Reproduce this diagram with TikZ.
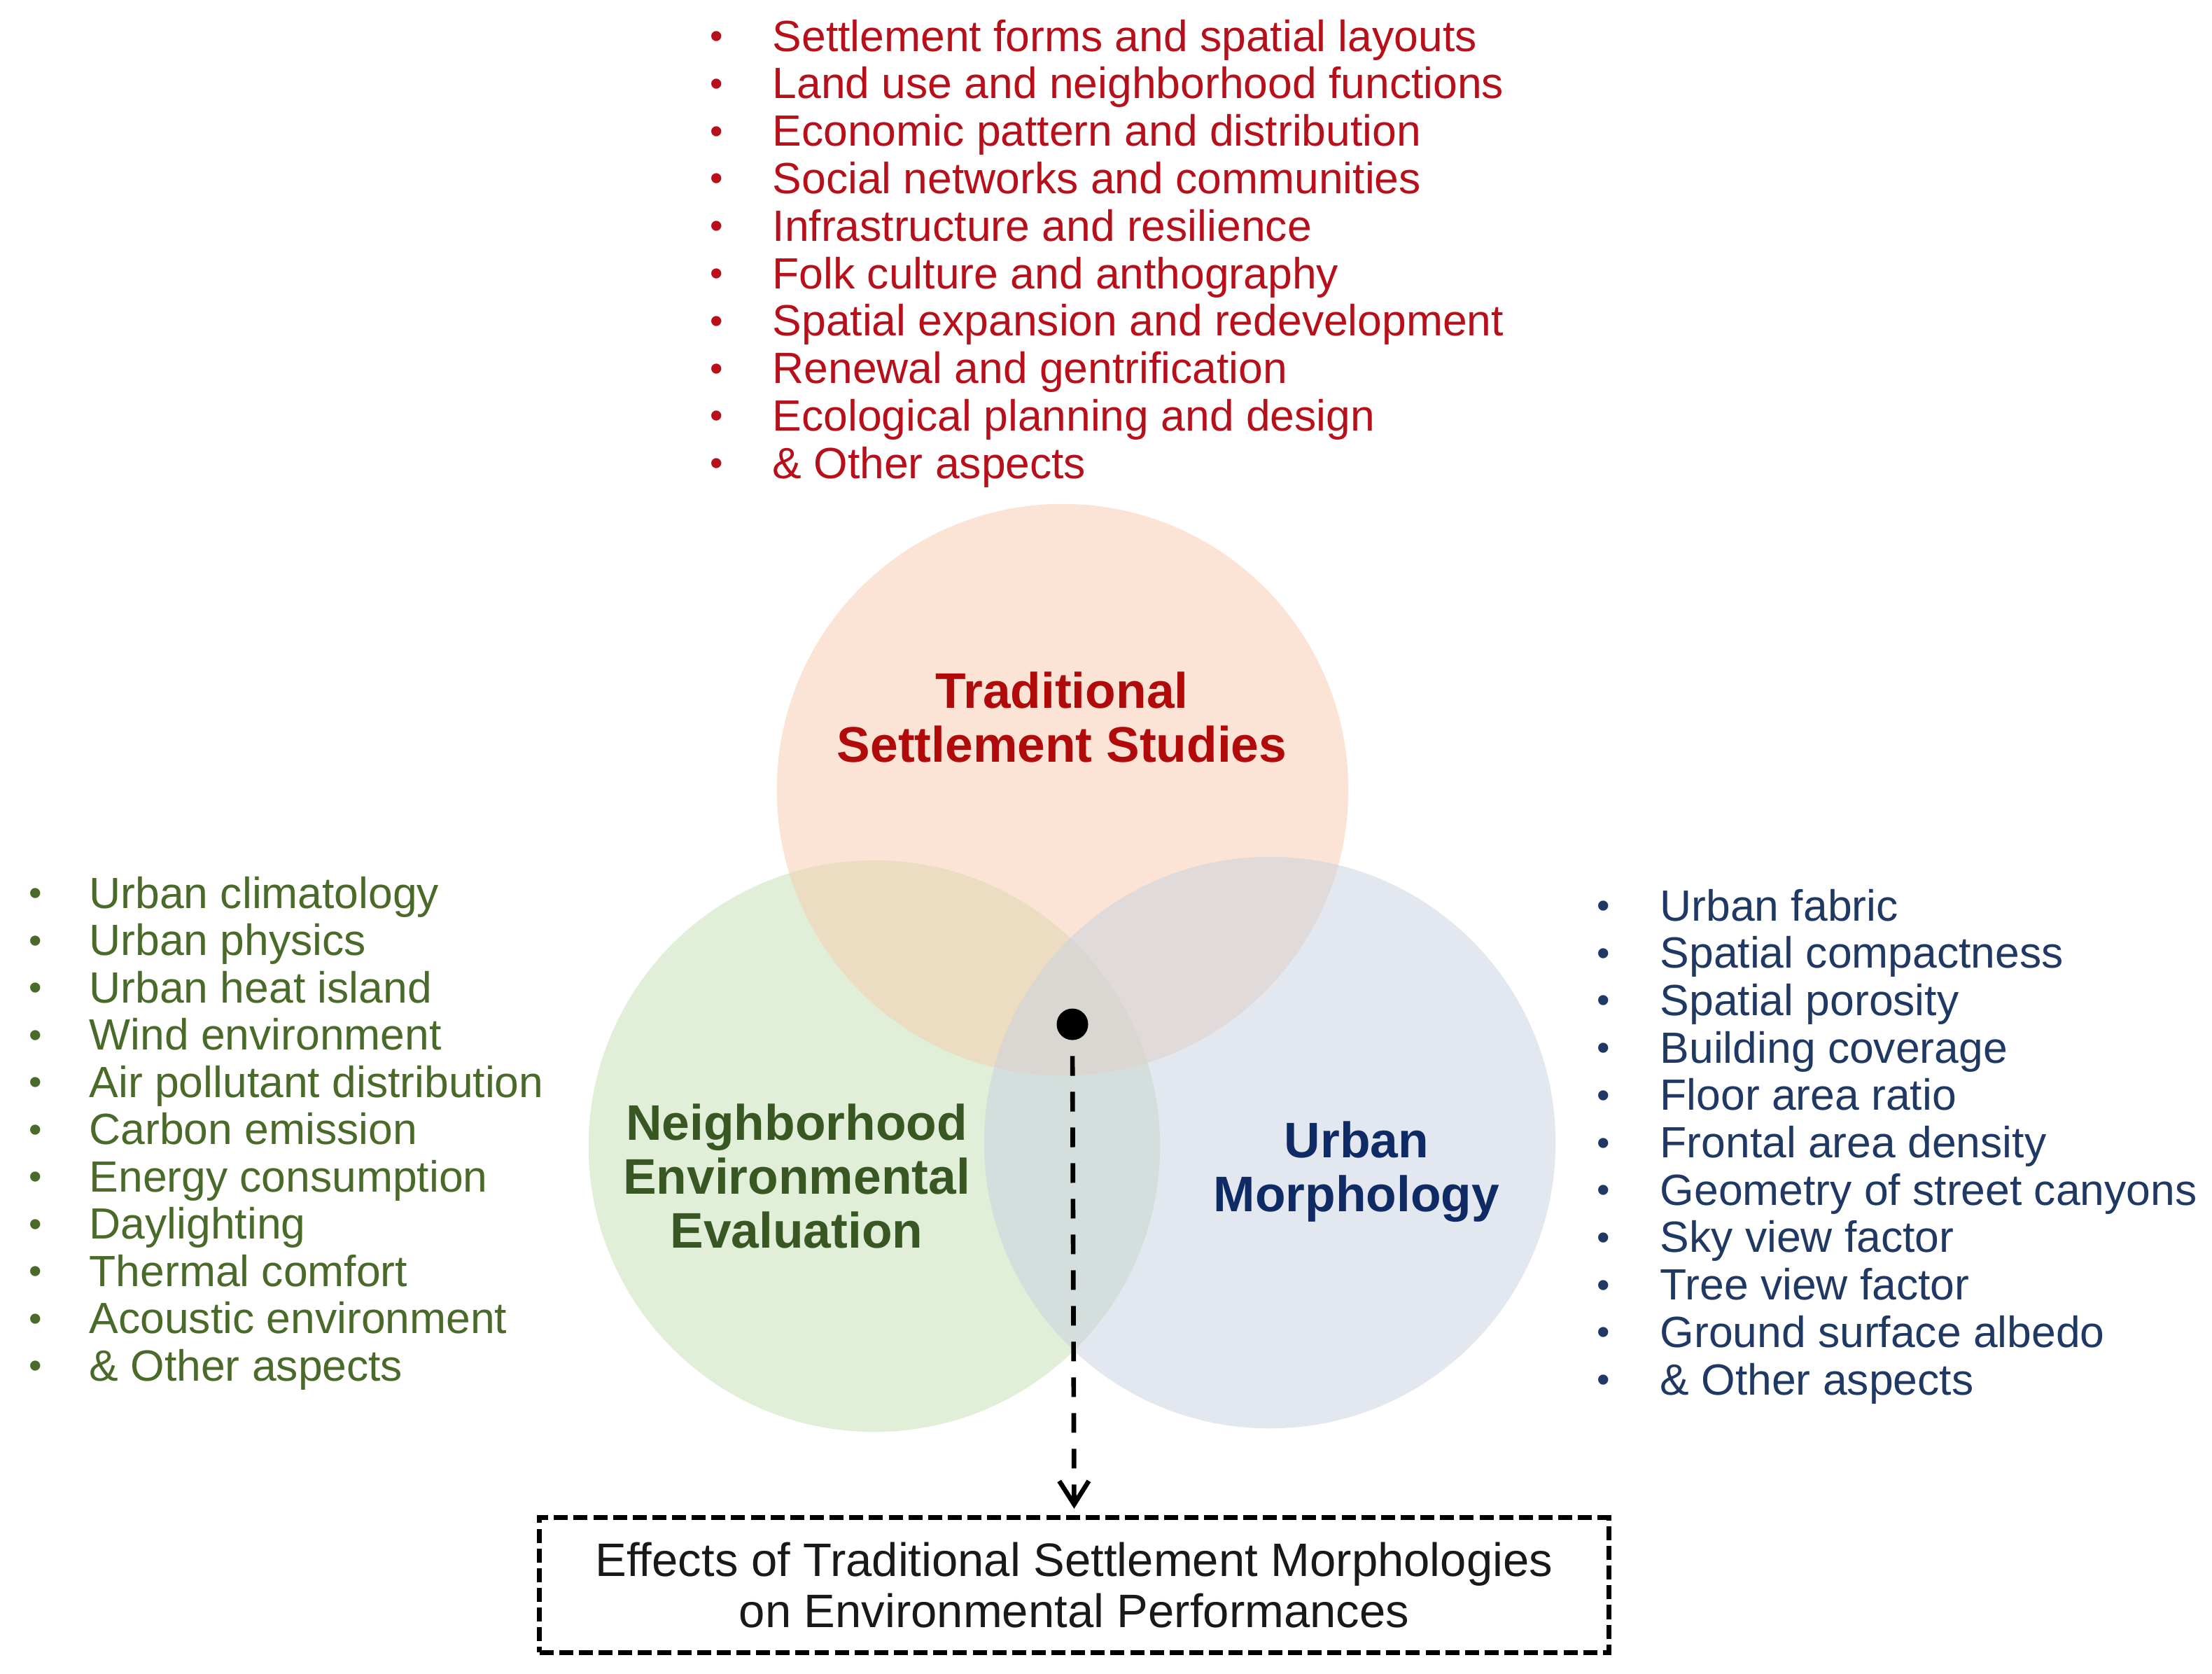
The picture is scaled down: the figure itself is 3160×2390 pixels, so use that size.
\documentclass[tikz,border=0pt]{standalone}
\usepackage{fontspec}
\setmainfont{Liberation Sans}
\usetikzlibrary{arrows.meta}
\definecolor{redT}{HTML}{B00A0A}
\definecolor{redL}{HTML}{B8101A}
\definecolor{grnT}{HTML}{385723}
\definecolor{grnL}{HTML}{4A6A2A}
\definecolor{bluT}{HTML}{0F2B66}
\definecolor{bluL}{HTML}{1F3864}
\definecolor{cO}{HTML}{F8CBAD}
\definecolor{cG}{HTML}{C5E0B4}
\definecolor{cB}{HTML}{C9D1E1}
\begin{document}
\begin{tikzpicture}[x=0.01cm,y=-0.01cm,
  item/.style={anchor=base west,inner sep=0pt,font=\fontsize{17.75}{20}\selectfont},
  bul/.style={anchor=base,inner sep=0pt,font=\fontsize{15}{18}\selectfont},
  vtitle/.style={align=center,inner sep=0pt,font=\fontsize{20.3}{21.9}\selectfont\bfseries},
  venn/.style={fill opacity=0.5},
]
\useasboundingbox (0,0) rectangle (3160,2390);
\fill[white] (0,0) rectangle (3160,2390);

% Venn circles
\fill[venn,cG] (1249,1637) circle[radius=4.08cm];
\fill[venn,cO] (1518,1128) circle[radius=4.08cm];
\fill[venn,cB] (1814,1632) circle[radius=4.08cm];

% titles
\node[vtitle,text=redT] (tss) at (1517,1024) {Traditional\\Settlement Studies};
\node[vtitle,text=grnT] (nee) at (1138,1680) {Neighborhood\\Environmental\\Evaluation};
\node[vtitle,text=bluT] (um) at (1938,1674) {Urban\\Morphology};

% top list
\foreach \t [count=\i from 0] in {Settlement forms and spatial layouts,
  Land use and neighborhood functions, Economic pattern and distribution,
  Social networks and communities, Infrastructure and resilience,
  Folk culture and anthography, Spatial expansion and redevelopment,
  Renewal and gentrification, Ecological planning and design, \& Other aspects}{
  \node[bul,text=redL] (rb\i) at (1024,{73+67.8*\i}) {\raisebox{1pt}{•}};
  \node[item,text=redL] (r\i) at (1103,{73+67.8*\i}) {\t};
}

% left list
\foreach \t [count=\i from 0] in {Urban climatology, Urban physics, Urban heat island,
  Wind environment, Air pollutant distribution, Carbon emission, Energy consumption,
  Daylighting, Thermal comfort, Acoustic environment, \& Other aspects}{
  \node[bul,text=grnL] (gb\i) at (51,{1297+67.5*\i}) {\raisebox{1pt}{•}};
  \node[item,text=grnL] (g\i) at (127,{1297+67.5*\i}) {\t};
}

% right list
\foreach \t [count=\i from 0] in {Urban fabric, Spatial compactness, Spatial porosity,
  Building coverage, Floor area ratio, Frontal area density, Geometry of street canyons,
  Sky view factor, Tree view factor, Ground surface albedo, \& Other aspects}{
  \node[bul,text=bluL] (bb\i) at (2291,{1315+67.7*\i}) {\raisebox{1pt}{•}};
  \node[item,text=bluL] (b\i) at (2371,{1315+67.7*\i}) {\t};
}

% dot, box, arrow
\node[circle,fill=black,inner sep=0pt,minimum size=12.8pt] (dot) at (1532,1463) {};
\node[draw,line width=2pt,dash pattern=on 5.7pt off 2.3pt,minimum width=15.27cm,
  minimum height=1.92cm,inner sep=0pt,align=center,
  font=\fontsize{19.06}{20.6}\selectfont,text=black!90] (box) at (1534.5,2264)
  {Effects of Traditional Settlement Morphologies\\on Environmental Performances};
\draw[line width=1.9pt,dash pattern=on 8pt off 6.5pt,
  -{Straight Barb[length=9.5pt,width=12pt]},shorten <=6.3pt,shorten >=2.7pt]
  (dot.south) -- (box.north);
\end{tikzpicture}
\end{document}
